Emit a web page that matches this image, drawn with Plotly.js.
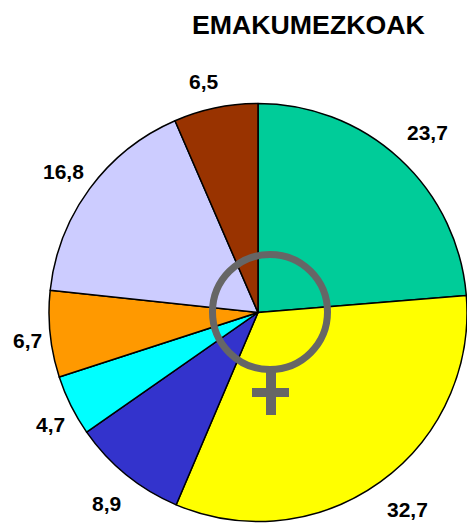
<!DOCTYPE html>
<html><head><meta charset="utf-8">
<script src="https://cdn.plot.ly/plotly-3.0.1.min.js"></script>
<style>html,body{margin:0;padding:0;background:#fff}</style></head>
<body><div id="c" style="width:467px;height:523px"></div>
<script>
const labels=["A","B","C","D","E","F","G"];
const values=[23.7,32.7,8.9,4.7,6.7,16.8,6.5];
const textLabels=["23,7","32,7","8,9","4,7","6,7","16,8","6,5"];
const colors=["#00CC99","#FFFF00","#3333CC","#00FFFF","#FF9900","#CCCCFF","#993300"];
const symbolColor="#666666";
Plotly.newPlot("c",[{type:"pie",labels:labels,values:values,sort:false,direction:"clockwise",rotation:0,
 marker:{colors:colors,line:{color:"#000",width:1.5}},textinfo:"none",hoverinfo:"none",
 domain:{x:[49/467,1],y:[1/523,(523-103)/523]}}],
{width:467,height:523,margin:{l:0,r:0,t:0,b:0},showlegend:false,paper_bgcolor:"#fff",
 font:{family:"Liberation Sans, Arial, sans-serif",size:21,color:"#000"},
 annotations:[
 {text:"<b>EMAKUMEZKOAK</b>",x:308/467,y:1-25/523,font:{size:26.7}},
 {text:"<b>"+textLabels[0]+"</b>",x:427/467,y:1-133/523},
 {text:"<b>"+textLabels[1]+"</b>",x:407/467,y:1-509/523},
 {text:"<b>"+textLabels[2]+"</b>",x:106.5/467,y:1-503/523},
 {text:"<b>"+textLabels[3]+"</b>",x:50/467,y:1-424/523},
 {text:"<b>"+textLabels[4]+"</b>",x:27.5/467,y:1-340/523},
 {text:"<b>"+textLabels[5]+"</b>",x:63.5/467,y:1-171/523},
 {text:"<b>"+textLabels[6]+"</b>",x:204/467,y:1-82/523}
 ].map(a=>Object.assign({xref:"paper",yref:"paper",showarrow:false,xanchor:"center",yanchor:"middle"},a)),
 shapes:[
 {type:"circle",xref:"paper",yref:"paper",x0:212.5/467,x1:327.5/467,y0:1-369.5/523,y1:1-254.5/523,line:{color:symbolColor,width:7}},
 {type:"line",xref:"paper",yref:"paper",x0:271/467,x1:271/467,y0:1-371/523,y1:1-415/523,line:{color:symbolColor,width:10}},
 {type:"line",xref:"paper",yref:"paper",x0:252/467,x1:289/467,y0:1-392.5/523,y1:1-392.5/523,line:{color:symbolColor,width:9}}
 ]},{displayModeBar:false,staticPlot:true});
</script></body></html>
